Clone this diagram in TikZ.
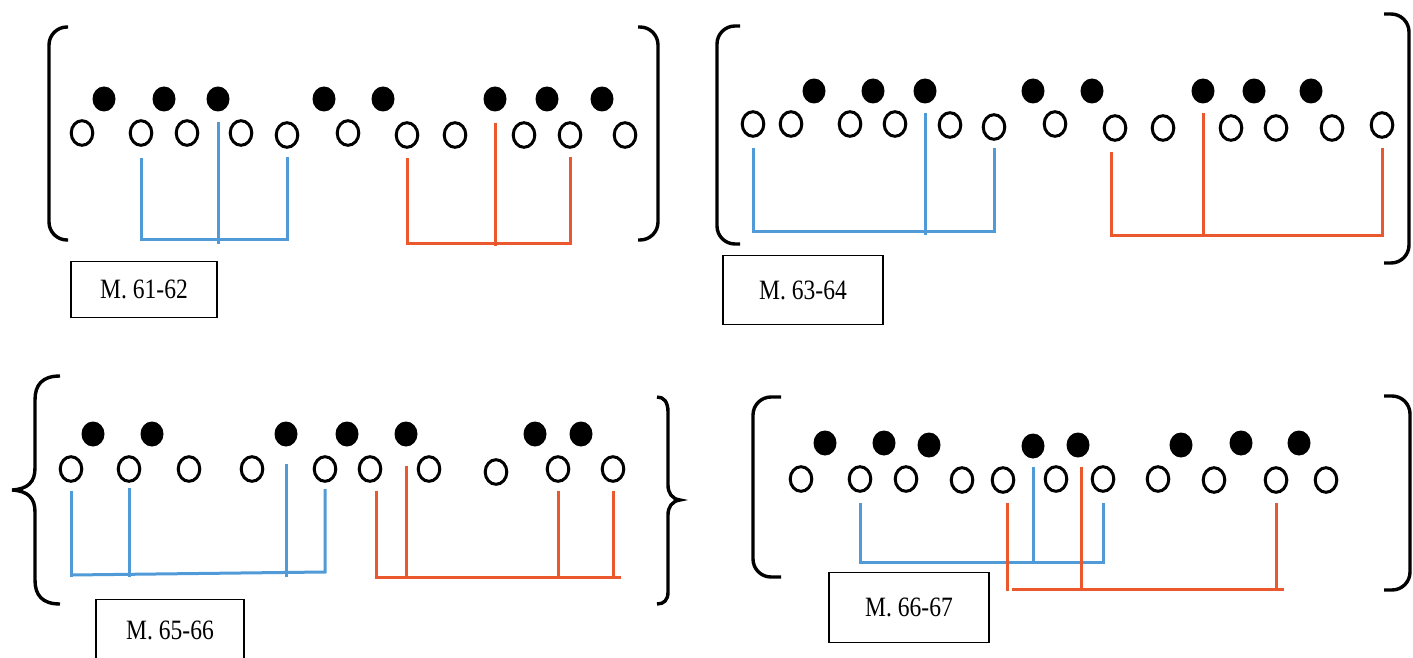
\documentclass[tikz,border=0pt]{standalone}
\usepackage{fontspec}
\setmainfont{Liberation Serif}
\newfontfamily\compasfont[FakeStretch=0.84]{Liberation Serif}
\usetikzlibrary{shapes.geometric}

\definecolor{azul}{RGB}{80,155,215}
\definecolor{rojo}{RGB}{236,88,46}

\begin{document}
\begin{tikzpicture}[
    x=0.5pt, y=-0.5pt,
    blanca/.style={ellipse, draw, line width=1.5pt, minimum width=10.8pt, minimum height=12.3pt, inner sep=0pt},
    negra/.style={ellipse, fill=black, minimum width=11.5pt, minimum height=12.5pt, inner sep=0pt},
    grupoA/.style={draw=azul, line width=1.5pt},
    grupoR/.style={draw=rojo, line width=1.5pt},
    corchete/.style={line width=1.7pt, rounded corners=9pt},
    llave/.style={line width=1.7pt},
    etiqueta/.style={rectangle, draw, line width=0.8pt, inner sep=0pt, font=\compasfont\fontsize{14pt}{16pt}\selectfont}
]
\useasboundingbox (0,0) rectangle (1413,658);

% Compases 61-62
\foreach \x/\y [count=\i] in {104/99,164/99,218/99,324/99,383/99,495/99,547/99,602/99}
    \node[negra] (p1n\i) at (\x,\y) {};
\foreach \x/\y [count=\i] in {82/133,141/133,187/133,241/133,287/135,348/133,407/135,455/135,524/135,570/135,625/135}
    \node[blanca] (p1b\i) at (\x,\y) {};
\draw[corchete] (68,27) -- (49,27) -- (49,240) -- (68,240);
\draw[corchete] (638,27) -- (658,27) -- (658,240) -- (638,240);
\draw[grupoA] (p1b2 |- 0,158) |- (p1b5 |- 0,239) -- (p1b5 |- 0,157);
\draw[grupoA] (p1n3 |- 0,122) -- (p1n3 |- 0,244);
\draw[grupoR] (p1b7 |- 0,158) |- (p1b10 |- 0,243) -- (p1b10 |- 0,157);
\draw[grupoR] (p1n6 |- 0,123) -- (p1n6 |- 0,246);
\node[etiqueta, minimum width=73pt, minimum height=28pt] (t1) at (144,289.5) {M. 61-62};

% Compases 63-64
\foreach \x/\y [count=\i] in {814/91,873/91,925/91,1033/91,1092/91,1203/91,1254/91,1311/91}
    \node[negra] (p2n\i) at (\x,\y) {};
\foreach \x/\y [count=\i] in {753/124,791/124,850/124,895/124,950/125,994/127,1055/124,1115/128,1163/128,1231/128,1276/128,1332/128,1382/125}
    \node[blanca] (p2b\i) at (\x,\y) {};
\draw[corchete] (740,26) -- (717,26) -- (717,244) -- (740,244);
\draw[corchete] (1384,14) -- (1409,14) -- (1409,263) -- (1384,263);
\draw[grupoA] (p2b1 |- 0,148) |- (p2b6 |- 0,231) -- (p2b6 |- 0,148);
\draw[grupoA] (p2n3 |- 0,113) -- (p2n3 |- 0,235);
\draw[grupoR] ([xshift=-2pt]p2b8 |- 0,152) |- (p2b13 |- 0,235) -- (p2b13 |- 0,148);
\draw[grupoR] (p2n6 |- 0,113) -- (p2n6 |- 0,237);
\node[etiqueta, minimum width=80pt, minimum height=34.5pt] (t2) at (803,290) {M. 63-64};

% Compases 65-66
\foreach \x [count=\i] in {93,152,286,347,406,535,581}
    \node[negra] (p3n\i) at (\x,434) {};
\foreach \x/\y [count=\i] in {71/469,129/469,189/469,252/469,325/469,370/469,429/469,496/472,558/469,613/469}
    \node[blanca] (p3b\i) at (\x,\y) {};
\draw[llave] (60,376) .. controls (42,376) and (35,385) .. (35,400) -- (35,468)
    .. controls (35,482) and (28,489) .. (12,490) .. controls (28,491) and (35,498) .. (35,512)
    -- (35,580) .. controls (35,595) and (42,604) .. (60,604);
\draw[llave] (657,397) .. controls (664,397) and (668,402) .. (668,412) -- (668,485)
    .. controls (668,493) and (672,499) .. (680,500) .. controls (672,501) and (668,507) .. (668,515)
    -- (668,592) .. controls (668,600) and (664,604) .. (657,604);
\foreach \p/\t in {p3b1/491,p3b2/488,p3n3/464}
    \draw[grupoA] (\p |- 0,\t) -- (\p |- 0,577);
\draw[grupoA] (p3b1 |- 0,575) -- (p3b5 |- 0,572) -- (p3b5 |- 0,489);
\draw[grupoR] ([xshift=3pt]p3b6 |- 0,491) |- ([xshift=4pt]p3b10 |- 0,577);
\foreach \p/\t in {p3n5/466,p3b9/491,p3b10/491}
    \draw[grupoR] (\p |- 0,\t) -- (\p |- 0,577);
\node[etiqueta, minimum width=74pt, minimum height=30.5pt] (t3) at (170,630) {M. 65-66};

% Compases 66-67
\foreach \x/\y [count=\i] in {825/443,884/443,929/445,1033/446,1078/445,1181/445,1241/443,1299/443}
    \node[negra] (p4n\i) at (\x,\y) {};
\foreach \x/\y [count=\i] in {801/479,860/479,906/479,962/480,1003/480,1056/479,1103/479,1158/479,1214/480,1276/480,1326/480}
    \node[blanca] (p4b\i) at (\x,\y) {};
\draw[corchete] (781,397) -- (753,397) -- (753,577) -- (781,577);
\draw[corchete] (1384,396) -- (1410,396) -- (1410,590) -- (1384,590);
\draw[grupoA] (p4b2 |- 0,503) |- (p4b7 |- 0,562) -- (p4b7 |- 0,503);
\draw[grupoA] (p4n4 |- 0,467) -- (p4n4 |- 0,562);
\draw[grupoR] ([xshift=2pt]p4b5 |- 0,503) -- ([xshift=2pt]p4b5 |- 0,591);
\draw[grupoR] ([xshift=4.5pt]p4b5 |- 0,589) -- ([xshift=4pt]p4b10 |- 0,589);
\draw[grupoR] ([xshift=1.5pt]p4n5 |- 0,467) -- ([xshift=1.5pt]p4n5 |- 0,589);
\draw[grupoR] (p4b10 |- 0,503) -- (p4b10 |- 0,589);
\node[etiqueta, minimum width=80pt, minimum height=35pt] (t4) at (909,607.5) {M. 66-67};

\end{tikzpicture}
\end{document}
